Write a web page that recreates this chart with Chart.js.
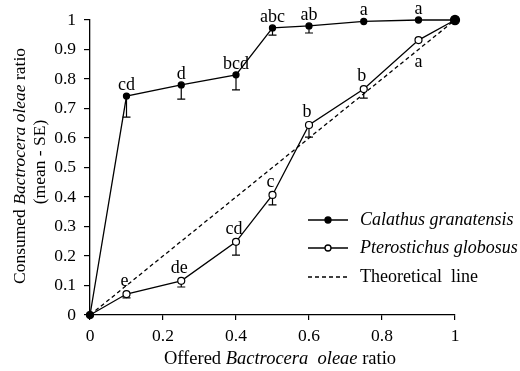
<!DOCTYPE html>
<html>
<head>
<meta charset="utf-8">
<script src="https://cdn.jsdelivr.net/npm/chart.js@4.4.1/dist/chart.umd.min.js"></script>
<style>
  html, body { margin: 0; padding: 0; background: #fff; }
  #wrap { width: 520px; height: 371px; }
</style>
</head>
<body>
<div id="wrap"><canvas id="chart" width="520" height="371"></canvas></div>
<script>
// offered ratio (x)
const offered = [0, 0.1, 0.25, 0.4, 0.5, 0.6, 0.75, 0.9, 1];

// Calathus granatensis
const calathusMean  = [0, 0.742, 0.78, 0.814, 0.973, 0.98, 0.995, 1.0, 1.0];
const calathusLower = [null, 0.671, 0.732, 0.763, 0.949, 0.956, null, null, null];
const calathusLetters = ['', 'cd', 'd', 'bcd', 'abc', 'ab', 'a', 'a', ''];

// Pterostichus globosus
const pteroMean  = [0, 0.071, 0.116, 0.248, 0.407, 0.644, 0.766, 0.932, 1.0];
const pteroLower = [null, 0.058, 0.095, 0.203, 0.373, 0.603, 0.735, null, null];
const pteroLetters = ['', 'e', 'de', 'cd', 'c', 'b', 'b', 'a', ''];
const pteroLetterBelow = [false, false, false, false, false, false, false, true, false];

// theoretical line
const theoX = [0, 1];
const theoY = [0, 1];

const yTicks = [0, 0.1, 0.2, 0.3, 0.4, 0.5, 0.6, 0.7, 0.8, 0.9, 1];
const xTicks = [0, 0.2, 0.4, 0.6, 0.8, 1];

const SERIF = '"Liberation Serif", "Times New Roman", serif';

function pts(xs, ys) {
    return xs.map((x, i) => ({ x: x, y: ys[i] }));
}

// draw a run of text pieces, some italic, centred on (0,0)
function drawMixed(ctx, parts, size) {
    let total = 0;
    const widths = parts.map(p => {
        ctx.font = (p.i ? 'italic ' : '') + size + 'px ' + SERIF;
        const w = ctx.measureText(p.t).width;
        total += w;
        return w;
    });
    let x = -total / 2;
    parts.forEach((p, k) => {
        ctx.font = (p.i ? 'italic ' : '') + size + 'px ' + SERIF;
        ctx.fillText(p.t, x, 0);
        x += widths[k];
    });
}

const errorBars = {
    id: 'errorBars',
    beforeDatasetsDraw(chart) {
        const ctx = chart.ctx;
        const xs = chart.scales.x, ys = chart.scales.y;
        ctx.save();
        ctx.strokeStyle = '#000';
        ctx.lineWidth = 1.2;
        [[calathusMean, calathusLower], [pteroMean, pteroLower]].forEach(([m, lo]) => {
            offered.forEach((x, i) => {
                if (lo[i] == null) return;
                const px = xs.getPixelForValue(x);
                const y1 = ys.getPixelForValue(m[i]);
                const y2 = ys.getPixelForValue(lo[i]);
                ctx.beginPath();
                ctx.moveTo(px, y1);
                ctx.lineTo(px, y2);
                ctx.moveTo(px - 4, y2);
                ctx.lineTo(px + 4, y2);
                ctx.stroke();
            });
        });
        ctx.restore();
    }
};

const letters = {
    id: 'letters',
    afterDatasetsDraw(chart) {
        const ctx = chart.ctx;
        const xs = chart.scales.x, ys = chart.scales.y;
        ctx.save();
        ctx.fillStyle = '#000';
        ctx.font = '18px ' + SERIF;
        ctx.textAlign = 'center';
        ctx.textBaseline = 'alphabetic';
        offered.forEach((x, i) => {
            const px = xs.getPixelForValue(x);
            if (calathusLetters[i]) {
                ctx.fillText(calathusLetters[i], px, ys.getPixelForValue(calathusMean[i]) - 6);
            }
            if (pteroLetters[i]) {
                const py = ys.getPixelForValue(pteroMean[i]);
                if (pteroLetterBelow[i]) {
                    ctx.fillText(pteroLetters[i], px, py + 27);
                } else {
                    ctx.fillText(pteroLetters[i], px - 2, py - 8);
                }
            }
        });
        ctx.restore();
    }
};

const decorations = {
    id: 'decorations',
    afterDraw(chart) {
        const ctx = chart.ctx;
        ctx.save();
        ctx.fillStyle = '#000';
        ctx.textBaseline = 'middle';

        // x axis title
        ctx.save();
        ctx.translate(280, 359);
        drawMixed(ctx, [{ t: 'Offered ' }, { t: 'Bactrocera  oleae', i: true }, { t: ' ratio' }], 18.5);
        ctx.restore();

        // y axis title (two lines)
        ctx.save();
        ctx.translate(20, 166);
        ctx.rotate(-Math.PI / 2);
        drawMixed(ctx, [{ t: 'Consumed ' }, { t: 'Bactrocera oleae', i: true }, { t: ' ratio' }], 17.5);
        ctx.restore();
        ctx.save();
        ctx.translate(40, 162);
        ctx.rotate(-Math.PI / 2);
        drawMixed(ctx, [{ t: '(mean - SE)' }], 17.5);
        ctx.restore();

        // legend
        const rows = [
            { label: 'Calathus granatensis', italic: true, marker: 'filled', y: 220 },
            { label: 'Pterostichus globosus', italic: true, marker: 'open', y: 248 },
            { label: 'Theoretical  line', italic: false, marker: 'dash', y: 277 }
        ];
        rows.forEach(r => {
            ctx.strokeStyle = '#000';
            ctx.lineWidth = 1.3;
            ctx.setLineDash(r.marker === 'dash' ? [4, 3] : []);
            ctx.beginPath();
            ctx.moveTo(308, r.y);
            ctx.lineTo(348, r.y);
            ctx.stroke();
            ctx.setLineDash([]);
            if (r.marker !== 'dash') {
                ctx.beginPath();
                ctx.arc(328, r.y, 3, 0, Math.PI * 2);
                ctx.fillStyle = r.marker === 'filled' ? '#000' : '#fff';
                ctx.fill();
                ctx.stroke();
            }
            ctx.fillStyle = '#000';
            ctx.textAlign = 'left';
            ctx.font = (r.italic ? 'italic ' : '') + '18px ' + SERIF;
            ctx.fillText(r.label, 360, r.y);
        });
        ctx.restore();
    }
};

new Chart(document.getElementById('chart'), {
    type: 'line',
    data: {
        datasets: [
            {
                label: 'Calathus granatensis',
                data: pts(offered, calathusMean),
                borderColor: '#000',
                borderWidth: 1.3,
                backgroundColor: '#000',
                pointBackgroundColor: '#000',
                pointBorderColor: '#000',
                pointRadius: offered.map((x, i) => i === offered.length - 1 ? 4.5 : 3),
                tension: 0,
                clip: false
            },
            {
                label: 'Pterostichus globosus',
                data: pts(offered, pteroMean),
                borderColor: '#000',
                borderWidth: 1.3,
                pointBackgroundColor: '#fff',
                pointBorderColor: '#000',
                pointBorderWidth: 1.2,
                pointRadius: 3.5,
                tension: 0,
                clip: false
            },
            {
                label: 'Theoretical line',
                data: pts(theoX, theoY),
                borderColor: '#000',
                borderWidth: 1.3,
                borderDash: [4, 3],
                pointRadius: 0,
                tension: 0,
                clip: false
            }
        ]
    },
    options: {
        responsive: false,
        animation: false,
        layout: { padding: { top: 20, right: 65, left: 0, bottom: 0 } },
        plugins: {
            legend: { display: false },
            tooltip: { enabled: false }
        },
        scales: {
            x: {
                type: 'linear',
                min: 0,
                max: 1,
                afterFit(s) { s.height = 56; },
                afterBuildTicks(s) { s.ticks = xTicks.map(v => ({ value: v })); },
                border: { display: true, color: '#000', width: 1.3 },
                grid: { display: true, drawOnChartArea: false, color: '#000', tickLength: 5, lineWidth: 1.2 },
                ticks: {
                    color: '#000',
                    padding: 6,
                    font: { family: SERIF, size: 17.5 },
                    callback: v => String(v)
                }
            },
            y: {
                min: 0,
                max: 1,
                afterFit(s) { s.width = 90; },
                afterBuildTicks(s) { s.ticks = yTicks.map(v => ({ value: v })); },
                border: { display: true, color: '#000', width: 1.3 },
                grid: { display: true, drawOnChartArea: false, color: '#000', tickLength: 6, lineWidth: 1.2 },
                ticks: {
                    color: '#000',
                    padding: 8,
                    font: { family: SERIF, size: 17.5 },
                    callback: v => String(v)
                }
            }
        }
    },
    plugins: [errorBars, letters, decorations]
});
</script>
</body>
</html>
